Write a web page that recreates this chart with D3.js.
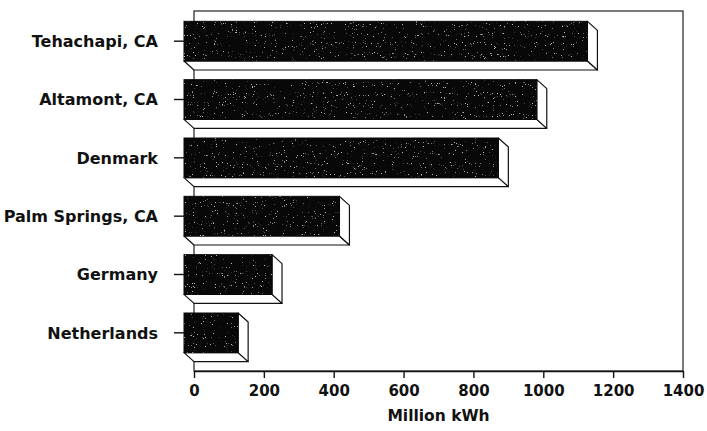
<!DOCTYPE html>
<html>
<head>
<meta charset="utf-8">
<script src="https://cdn.jsdelivr.net/npm/d3@7"></script>
<style>
  body { margin: 0; background: #fff; }
  text { font-family: "DejaVu Sans", sans-serif; font-weight: bold; fill: #111; }
</style>
</head>
<body>
<div id="chart"></div>
<script>
// Data
var categories = ["Tehachapi, CA", "Altamont, CA", "Denmark", "Palm Springs, CA", "Germany", "Netherlands"];
var values = [1155, 1010, 900, 445, 252, 155];
var tickValues = [0, 200, 400, 600, 800, 1000, 1200, 1400];

// Vars for viz sizing
var width = 707;
var height = 431;
var plot = {left: 194, right: 683, top: 11, bottom: 371};
var depth = {dx: 10, dy: 9};   // 3D offset from front face to back plane

var svg = d3.select("#chart")
  .append("svg")
    .attr("width", width)
    .attr("height", height);

// speckle texture for the dark bar faces
var defs = svg.append("defs");
var f = defs.append("filter").attr("id", "speckle")
  .attr("x", 0).attr("y", 0).attr("width", 1).attr("height", 1);
f.append("feTurbulence")
  .attr("type", "fractalNoise").attr("baseFrequency", 0.9)
  .attr("numOctaves", 2).attr("seed", 11).attr("result", "noise");
f.append("feColorMatrix").attr("in", "noise").attr("type", "matrix")
  .attr("values", "0 0 0 0 0.5  0 0 0 0 0.5  0 0 0 0 0.5  12 0 0 0 -8.4")
  .attr("result", "dots");
f.append("feComposite").attr("in", "dots").attr("in2", "SourceGraphic").attr("operator", "in");

// X scale sits on the back plane
var x = d3.scaleLinear()
  .domain([0, 1400])
  .range([plot.left, plot.right]);

// Y band scale on the front plane
var y = d3.scaleBand()
  .domain(categories)
  .range([plot.top + 1, plot.bottom - depth.dy])
  .paddingInner(0.32)
  .paddingOuter(0.16);

// Back frame
svg.append("rect")
  .attr("x", x(0))
  .attr("y", plot.top)
  .attr("width", x(1400) - x(0))
  .attr("height", plot.bottom - plot.top)
  .attr("fill", "none")
  .attr("stroke", "#222")
  .attr("stroke-width", 1.2);

// Bottom axis
var xAxis = svg.append("g")
  .attr("transform", "translate(0," + plot.bottom + ")")
  .call(d3.axisBottom(x)
    .tickValues(tickValues)
    .tickFormat(d3.format("d"))
    .tickSize(7)
    .tickSizeOuter(0)
    .tickPadding(7));
xAxis.select(".domain").attr("stroke", "#111").attr("stroke-width", 1.4);
xAxis.selectAll(".tick line").attr("stroke", "#111").attr("stroke-width", 1.4);
xAxis.selectAll("text")
  .attr("font-size", 15)
  .attr("fill", "#111")
  .style("font-family", "DejaVu Sans, sans-serif")
  .style("font-weight", "bold");

svg.append("text")
  .attr("x", (x(0) + x(1400)) / 2)
  .attr("y", 421)
  .attr("text-anchor", "middle")
  .attr("font-size", 15.5)
  .text("Million kWh");

// Bars
var bars = svg.append("g")
  .selectAll("g")
  .data(categories)
  .enter()
  .append("g");

function x0f() { return x(0) - depth.dx; }
function x1f(i) { return x(values[i]) - depth.dx; }

// bottom face
bars.append("polygon")
  .attr("points", function(d, i) {
    var yb = y(d) + y.bandwidth();
    return [[x0f(), yb], [x1f(i), yb], [x1f(i) + depth.dx, yb + depth.dy], [x0f() + depth.dx, yb + depth.dy]].join(" ");
  })
  .attr("fill", "#fff")
  .attr("stroke", "#111")
  .attr("stroke-width", 1.2)
  .attr("stroke-linejoin", "round");

// right side face
bars.append("polygon")
  .attr("points", function(d, i) {
    var yt = y(d), yb = y(d) + y.bandwidth();
    return [[x1f(i), yt], [x1f(i) + depth.dx, yt + depth.dy], [x1f(i) + depth.dx, yb + depth.dy], [x1f(i), yb]].join(" ");
  })
  .attr("fill", "#fff")
  .attr("stroke", "#111")
  .attr("stroke-width", 1.2)
  .attr("stroke-linejoin", "round");

// front face
bars.append("rect")
  .attr("x", x0f())
  .attr("y", function(d) { return y(d); })
  .attr("width", function(d, i) { return x1f(i) - x0f(); })
  .attr("height", y.bandwidth())
  .attr("fill", "#080808")
  .attr("stroke", "#080808")
  .attr("stroke-width", 1);

// speckle overlay
bars.append("rect")
  .attr("x", x0f())
  .attr("y", function(d) { return y(d); })
  .attr("width", function(d, i) { return x1f(i) - x0f(); })
  .attr("height", y.bandwidth())
  .attr("fill", "#fff")
  .attr("filter", "url(#speckle)");

// Category ticks and labels
bars.append("line")
  .attr("x1", x0f() - 10)
  .attr("x2", x0f())
  .attr("y1", function(d) { return y(d) + y.bandwidth() / 2; })
  .attr("y2", function(d) { return y(d) + y.bandwidth() / 2; })
  .attr("stroke", "#111")
  .attr("stroke-width", 1.4);

bars.append("text")
  .attr("x", x0f() - 26)
  .attr("y", function(d) { return y(d) + y.bandwidth() / 2; })
  .attr("dy", "0.36em")
  .attr("text-anchor", "end")
  .attr("font-size", 16)
  .text(function(d) { return d; });
</script>
</body>
</html>
